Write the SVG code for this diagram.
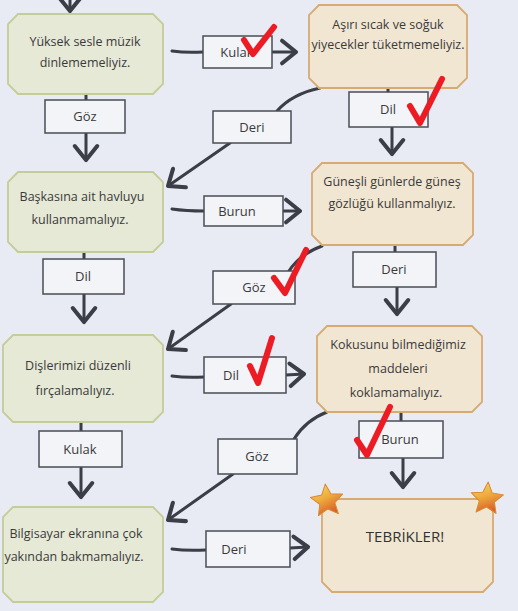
<svg xmlns="http://www.w3.org/2000/svg" width="518" height="611" viewBox="0 0 518 611">
<defs>
<marker id="ah" markerUnits="userSpaceOnUse" markerWidth="30" markerHeight="30" viewBox="-16 -14 20 28" refX="0" refY="0" orient="auto">
<path d="M-13,-10.5 L0,0 L-13,10.5" fill="none" stroke="#3b3e46" stroke-width="3.8" stroke-linecap="round" stroke-linejoin="round"/>
</marker>
<linearGradient id="sg" x1="0" y1="0" x2="0.4" y2="1">
<stop offset="0" stop-color="#f7dc6a"/>
<stop offset="0.55" stop-color="#eeaa3c"/>
<stop offset="1" stop-color="#d9632a"/>
</linearGradient>
<style>
.bg{fill:#e8ebf3}
.g{fill:#e6e9d6;stroke:#c3cd98;stroke-width:1.8}
.b{fill:#f1e6d2;stroke:#d7aa72;stroke-width:1.8}
.lb{fill:#f3f4f7;stroke:#4a4d55;stroke-width:1.5}
.t{font-family:"Open Sans","Liberation Sans",sans-serif;font-size:12.5px;fill:#3a3a3c;text-anchor:middle}
.l{font-family:"Open Sans","Liberation Sans",sans-serif;font-size:13px;fill:#3a3a3c;text-anchor:middle}
.big{font-family:"Open Sans","Liberation Sans",sans-serif;font-size:15px;fill:#333;text-anchor:middle}
.c{fill:none;stroke:#3b3e46;stroke-width:3;stroke-linecap:round}
.a{fill:none;stroke:#3b3e46;stroke-width:3;stroke-linecap:round;marker-end:url(#ah)}
.ck{fill:none;stroke:#ec1b24;stroke-width:6;stroke-linecap:round;stroke-linejoin:round}
.st{fill:url(#sg);stroke:#d98a35;stroke-width:1;stroke-linejoin:round}
</style>
</defs>
<rect class="bg" x="0" y="0" width="518" height="611"/>

<g id="connectors">
<line class="a" x1="70" y1="-6" x2="70" y2="11"/>
<line class="c" x1="86" y1="94" x2="86" y2="100"/>
<line class="a" x1="86" y1="133" x2="86" y2="160"/>
<line class="c" x1="84" y1="252" x2="84" y2="259"/>
<line class="a" x1="84" y1="294" x2="84" y2="322"/>
<line class="c" x1="81" y1="422" x2="81" y2="431"/>
<line class="a" x1="81" y1="467" x2="81" y2="497"/>

<line class="c" x1="388" y1="88" x2="388" y2="92"/>
<line class="a" x1="392" y1="127" x2="392" y2="154"/>
<line class="c" x1="395" y1="245" x2="395" y2="252"/>
<line class="a" x1="397" y1="287" x2="397" y2="314"/>
<line class="c" x1="401" y1="412" x2="401" y2="421"/>
<line class="a" x1="403" y1="458" x2="403" y2="487"/>

<path class="c" d="M172,51 Q186,53 203,52"/>
<line class="a" x1="272" y1="52" x2="296" y2="52"/>
<path class="c" d="M172,209 Q186,211 204,211"/>
<line class="a" x1="283" y1="211" x2="300" y2="211"/>
<path class="c" d="M172,376 Q186,378 204,377"/>
<line class="a" x1="286" y1="375" x2="304" y2="374"/>
<path class="c" d="M172,549 Q186,551 206,550"/>
<line class="a" x1="290" y1="548" x2="308" y2="547"/>

<path class="c" d="M320,88 Q292,94 277,111"/>
<line class="a" x1="230" y1="143" x2="168" y2="186"/>
<path class="c" d="M322,246 Q300,254 289,271"/>
<line class="a" x1="231" y1="304" x2="168" y2="349"/>
<path class="c" d="M327,412 Q306,420 294,439"/>
<line class="a" x1="233" y1="474" x2="168" y2="520"/>
</g>

<g id="n1"><path class="g" d="M18,14 L153,14 L163,24 L163,84 L153,94 L18,94 L8,84 L8,24 Z"/>
<text class="t" x="85" y="46">Yüksek sesle müzik</text><text class="t" x="85" y="67">dinlememeliyiz.</text></g>
<g id="n2"><path class="g" d="M18,172 L153,172 L163,182 L163,242 L153,252 L18,252 L8,242 L8,182 Z"/>
<text class="t" x="82" y="201">Başkasına ait havluyu</text><text class="t" x="80" y="224">kullanmamalıyız.</text></g>
<g id="n3"><path class="g" d="M13,335 L153,335 L163,345 L163,412 L153,422 L13,422 L3,412 L3,345 Z"/>
<text class="t" x="78" y="370">Dişlerimizi düzenli</text><text class="t" x="75" y="395">fırçalamalıyız.</text></g>
<g id="n4"><path class="g" d="M13,507 L153,507 L163,517 L163,592 L153,602 L13,602 L3,592 L3,517 Z"/>
<text class="t" x="76" y="538">Bilgisayar ekranına çok</text><text class="t" x="74" y="561">yakından bakmamalıyız.</text></g>

<g id="r1"><path class="b" d="M319,5 L457,5 L467,15 L467,78 L457,88 L319,88 L309,78 L309,15 Z"/>
<text class="t" x="388" y="29">Aşırı sıcak ve soğuk</text><text class="t" x="388" y="49">yiyecekler tüketmemeliyiz.</text></g>
<g id="r2"><path class="b" d="M322,163 L463,163 L473,173 L473,235 L463,245 L322,245 L312,235 L312,173 Z"/>
<text class="t" x="392" y="186">Güneşli günlerde güneş</text><text class="t" x="392" y="208">gözlüğü kullanmalıyız.</text></g>
<g id="r3"><path class="b" d="M327,326 L472,326 L482,336 L482,402 L472,412 L327,412 L317,402 L317,336 Z"/>
<text class="t" x="398" y="349">Kokusunu bilmediğimiz</text><text class="t" x="398" y="373">maddeleri</text><text class="t" x="396" y="397">koklamamalıyız.</text></g>
<g id="r4"><path class="b" d="M332,499 L483,499 L493,509 L493,582 L483,592 L332,592 L322,582 L322,509 Z"/>
<text class="big" x="405" y="542">TEBRİKLER!</text>
<polygon class="st" transform="translate(327,501) rotate(-6)" points="0,-17 4.7,-6.47 16.17,-5.25 7.61,2.47 9.99,13.75 0,8 -9.99,13.75 -7.61,2.47 -16.17,-5.25 -4.7,-6.47"/>
<polygon class="st" transform="translate(487,499) rotate(4)" points="0,-17 4.7,-6.47 16.17,-5.25 7.61,2.47 9.99,13.75 0,8 -9.99,13.75 -7.61,2.47 -16.17,-5.25 -4.7,-6.47"/>
</g>

<g id="lab-goz1"><rect class="lb" x="45" y="100" width="80" height="33"/><text class="l" x="85" y="121">Göz</text></g>
<g id="lab-dil1"><rect class="lb" x="43" y="259" width="81" height="35"/><text class="l" x="83" y="281">Dil</text></g>
<g id="lab-kulak1"><rect class="lb" x="39" y="431" width="83" height="36"/><text class="l" x="80" y="454">Kulak</text></g>
<g id="lab-dil2"><rect class="lb" x="349" y="92" width="79" height="35"/><text class="l" x="388" y="114">Dil</text></g>
<g id="lab-deri1"><rect class="lb" x="353" y="252" width="83" height="35"/><text class="l" x="394" y="274">Deri</text></g>
<g id="lab-burun1"><rect class="lb" x="359" y="421" width="84" height="37"/><text class="l" x="400" y="444">Burun</text></g>
<g id="lab-kulak2"><rect class="lb" x="203" y="36" width="69" height="32"/><text class="l" x="237" y="57">Kulak</text></g>
<g id="lab-deri2"><rect class="lb" x="213" y="111" width="78" height="32"/><text class="l" x="252" y="132">Deri</text></g>
<g id="lab-burun2"><rect class="lb" x="204" y="196" width="79" height="30"/><text class="l" x="237" y="216">Burun</text></g>
<g id="lab-goz2"><rect class="lb" x="213" y="271" width="82" height="33"/><text class="l" x="254" y="292">Göz</text></g>
<g id="lab-dil3"><rect class="lb" x="204" y="357" width="82" height="36"/><text class="l" x="231" y="380">Dil</text></g>
<g id="lab-goz3"><rect class="lb" x="218" y="439" width="79" height="35"/><text class="l" x="257" y="461">Göz</text></g>
<g id="lab-deri3"><rect class="lb" x="206" y="531" width="84" height="36"/><text class="l" x="234" y="554">Deri</text></g>

<g id="checks">
<path class="ck" d="M244,40 L253,54 L274,27"/>
<path class="ck" d="M410,106 L420,123 L442,79"/>
<path class="ck" d="M274,278 L285,293 L306,250"/>
<path class="ck" d="M250,366 L258,383 L272,338"/>
<path class="ck" d="M357,440 L367,455 L390,407"/>
</g>
</svg>
